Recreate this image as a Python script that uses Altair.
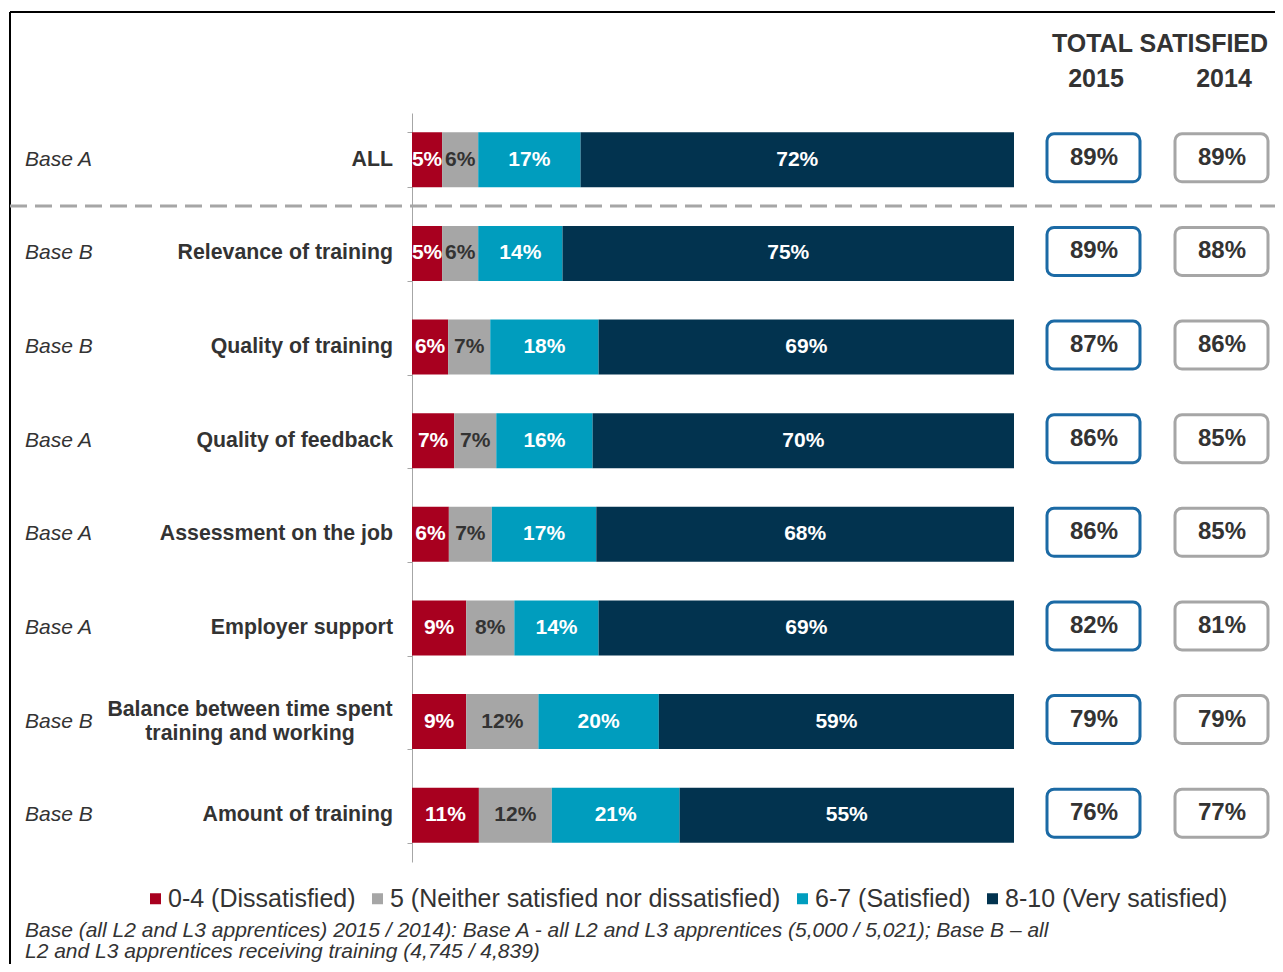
import altair as alt
import pandas as pd

# ---------------- data ----------------
categories = ["ALL", "Relevance of training", "Quality of training", "Quality of feedback",
              "Assessment on the job", "Employer support",
              "Balance between time spent training and working", "Amount of training"]
label_lines = [["ALL"], ["Relevance of training"], ["Quality of training"], ["Quality of feedback"],
               ["Assessment on the job"], ["Employer support"],
               ["Balance between time spent", "training and working"], ["Amount of training"]]
bases = ["Base A", "Base B", "Base B", "Base A", "Base A", "Base A", "Base B", "Base B"]

series = ["0-4 (Dissatisfied)", "5 (Neither satisfied nor dissatisfied)",
          "6-7 (Satisfied)", "8-10 (Very satisfied)"]
dissatisfied = [5, 5, 6, 7, 6, 9, 9, 11]
neither = [6, 6, 7, 7, 7, 8, 12, 12]
satisfied = [17, 14, 18, 16, 17, 14, 20, 21]
very_satisfied = [72, 75, 69, 70, 68, 69, 59, 55]

total_2015 = [89, 89, 87, 86, 86, 82, 79, 76]
total_2014 = [89, 88, 86, 85, 85, 81, 79, 77]

colors = ["#A8001F", "#A6A6A6", "#009DBE", "#02334F"]

footnote = ["Base (all L2 and L3 apprentices) 2015 / 2014): Base A - all L2 and L3 apprentices (5,000 / 5,021); Base B \u2013 all",
            "L2 and L3 apprentices receiving training (4,745 / 4,839)"]

# ---------------- tables ----------------
rows = []
for i, c in enumerate(categories):
    for j, vals in enumerate([dissatisfied, neither, satisfied, very_satisfied]):
        rows.append({"cat": c, "series": series[j], "value": vals[i], "order": j,
                     "label": f"{vals[i]}%"})
long_df = pd.DataFrame(rows)

row_df = pd.DataFrame({
    "cat": categories,
    "lines": label_lines,
    "multi": [len(l) > 1 for l in label_lines],
    "base": bases,
    "t2015": [f"{v}%" for v in total_2015],
    "t2014": [f"{v}%" for v in total_2014],
})

FONT = "Liberation Sans"
TXT = "#333333"

y_enc = alt.Y("cat:N", sort=categories,
              scale=alt.Scale(paddingInner=0.41, paddingOuter=0.205),
              axis=alt.Axis(title=None, labels=False, domainColor="#A6A6A6", tickColor="#A6A6A6",
                            tickBand="extent", tickSize=5, domainWidth=1, tickWidth=1, grid=False))

base = alt.Chart(long_df).transform_joinaggregate(
    total="sum(value)", groupby=["cat"]
).transform_window(
    cum="sum(value)", sort=[alt.SortField("order")], groupby=["cat"], frame=[None, 0]
).transform_calculate(
    x0="(datum.cum - datum.value) / datum.total",
    x1="datum.cum / datum.total",
    mid="(datum.cum - datum.value / 2) / datum.total",
)

bars = base.mark_bar(size=55).encode(
    x=alt.X("x0:Q", scale=alt.Scale(domain=[0, 1], nice=False, zero=False), axis=None),
    x2="x1:Q",
    y=y_enc,
    color=alt.Color("series:N", sort=series,
                    scale=alt.Scale(domain=series, range=colors),
                    legend=alt.Legend(title=None, orient="none", direction="horizontal",
                                      legendX=-269, legendY=773, symbolType="square",
                                      symbolSize=121, symbolStrokeWidth=0, labelFontSize=25,
                                      labelFont=FONT, labelColor=TXT, labelOffset=0,
                                      columnPadding=9, padding=0, labelLimit=600)),
    order=alt.Order("order:Q"),
)

bar_text = base.mark_text(font=FONT, fontSize=21, fontWeight="bold", baseline="middle").encode(
    x=alt.X("mid:Q", scale=alt.Scale(domain=[0, 1], nice=False, zero=False), axis=None),
    y=y_enc,
    text="label:N",
    color=alt.condition(alt.datum.order == 1, alt.value(TXT), alt.value("white")),
)

rows_chart = alt.Chart(row_df)

cat_single = rows_chart.transform_filter("!datum.multi").mark_text(
    font=FONT, fontSize=21.3, fontWeight="bold", align="right", baseline="middle", color=TXT
).encode(x=alt.value(-19), y=y_enc, text="cat:N")

cat_multi = rows_chart.transform_filter("datum.multi").mark_text(
    font=FONT, fontSize=21.3, fontWeight="bold", align="center", baseline="middle",
    color=TXT, lineHeight=24, dy=-12
).encode(x=alt.value(-162), y=y_enc, text="lines")

base_text = rows_chart.mark_text(
    font=FONT, fontSize=21, fontStyle="italic", align="left", baseline="middle", color=TXT
).encode(x=alt.value(-387), y=y_enc, text="base:N")

box15 = rows_chart.mark_bar(height=48, cornerRadius=7, fill="white", stroke="#1B6AA5",
                            strokeWidth=3, yOffset=-2).encode(x=alt.value(635), x2=alt.value(728), y=y_enc)
box14 = rows_chart.mark_bar(height=48, cornerRadius=7, fill="white", stroke="#A6A6A6",
                            strokeWidth=3, yOffset=-2).encode(x=alt.value(763), x2=alt.value(856), y=y_enc)
t15 = rows_chart.mark_text(font=FONT, fontSize=24, fontWeight="bold", color=TXT,
                           baseline="middle", dy=-2).encode(x=alt.value(682), y=y_enc, text="t2015:N")
t14 = rows_chart.mark_text(font=FONT, fontSize=24, fontWeight="bold", color=TXT,
                           baseline="middle", dy=-2).encode(x=alt.value(810), y=y_enc, text="t2014:N")

hdr_df = pd.DataFrame({"t": ["TOTAL SATISFIED"]})
hdr = alt.Chart(hdr_df).mark_text(font=FONT, fontSize=25, fontWeight="bold", color=TXT,
                                  baseline="middle").encode(x=alt.value(748), y=alt.value(-69), text="t:N")
y15 = alt.Chart(pd.DataFrame({"t": ["2015"]})).mark_text(
    font=FONT, fontSize=25, fontWeight="bold", color=TXT, baseline="middle"
).encode(x=alt.value(684), y=alt.value(-34), text="t:N")
y14 = alt.Chart(pd.DataFrame({"t": ["2014"]})).mark_text(
    font=FONT, fontSize=25, fontWeight="bold", color=TXT, baseline="middle"
).encode(x=alt.value(812), y=alt.value(-34), text="t:N")

dash = alt.Chart(pd.DataFrame({"d": [0]})).mark_rule(
    color="#A6A6A6", strokeWidth=3, strokeDash=[17, 8]
).encode(x=alt.value(-402), x2=alt.value(871), y=alt.value(93))

border_top = alt.Chart(pd.DataFrame({"d": [0]})).mark_rule(color="black", strokeWidth=2).encode(
    x=alt.value(-402), x2=alt.value(871), y=alt.value(-101))
border_left = alt.Chart(pd.DataFrame({"d": [0]})).mark_rule(color="black", strokeWidth=2).encode(
    x=alt.value(-402), y=alt.value(-101), y2=alt.value(870))

foot = alt.Chart(pd.DataFrame({"t": [footnote]})).mark_text(
    font=FONT, fontSize=21, fontStyle="italic", color=TXT, align="left", baseline="middle",
    lineHeight=21
).encode(x=alt.value(-387), y=alt.value(818), text="t")

chart = alt.layer(
    border_top, border_left, dash, bars, bar_text, cat_single, cat_multi, base_text,
    box15, box14, t15, t14, hdr, y15, y14, foot
).properties(
    width=602, height=749, autosize="none",
    padding={"left": 404, "top": 105, "right": 261, "bottom": 102},
).configure_view(stroke=None)

chart.save("out.html", embed_options={"renderer": "svg", "actions": False})
